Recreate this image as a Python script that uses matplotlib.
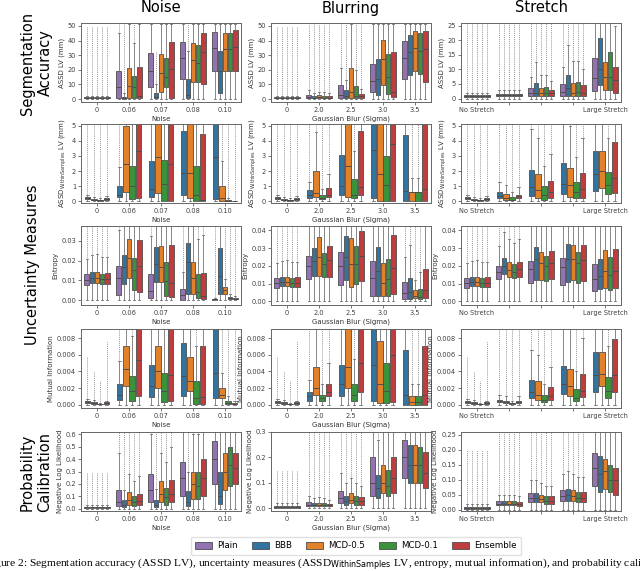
import matplotlib
matplotlib.use("Agg")
import matplotlib.pyplot as plt
from matplotlib.patches import Patch
from matplotlib.ticker import FormatStrFormatter

# ---------------- data ----------------
methods5 = ["Plain", "BBB", "MCD-0.5", "MCD-0.1", "Ensemble"]
methods4 = ["BBB", "MCD-0.5", "MCD-0.1", "Ensemble"]
colors = {"Plain": "#9372b2", "BBB": "#3274a1", "MCD-0.5": "#e1812c",
          "MCD-0.1": "#3a923a", "Ensemble": "#c03d3e"}

noise_ticks = ["0", "0.06", "0.07", "0.08", "0.10"]
blur_ticks = ["0", "2.0", "2.5", "3.0", "3.5"]
stretch_ticks = ["No Stretch", "", "", "", "Large Stretch"]

WHISLO = 0.0
# each box: (q1, median, q3, upper whisker, top of outliers)
acc_noise = {
    "Plain":    [(0.5, 0.8, 1.2, 2, 50), (1, 8.5, 19, 45, 51), (8, 19, 31.5, 51, 51), (14, 28, 39, 51, 51), (19.5, 35, 46, 51, 51)],
    "BBB":      [(0.5, 0.8, 1.2, 2, 50), (0, 0.8, 1.5, 4, 51), (0.5, 1.5, 4, 10, 33), (1, 3, 13.5, 33, 51), (4, 19.5, 33, 51, 51)],
    "MCD-0.5":  [(0.5, 0.8, 1.2, 2, 50), (1, 9, 21, 51, 51), (5, 18, 31, 51, 51), (12, 27, 38, 51, 51), (19.5, 34.5, 45, 51, 51)],
    "MCD-0.1":  [(0.5, 0.8, 1.2, 2, 50), (1, 8, 16, 38, 51), (8, 15, 28, 51, 51), (11.5, 25, 37, 51, 51), (19.5, 34, 45.5, 51, 51)],
    "Ensemble": [(0.5, 0.8, 1.2, 2, 50), (0.5, 2, 22, 51, 51), (1, 20.5, 39, 51, 51), (10.5, 32.5, 45, 51, 51), (19.5, 35.5, 47, 51, 51)],
}
acc_blur = {
    "Plain":    [(0.5, 0.8, 1.2, 2, 50), (0.5, 1.5, 3, 6, 51), (1, 3, 9.5, 21.5, 51), (4.5, 12.5, 24, 51, 51), (14, 28, 39.5, 51, 51)],
    "BBB":      [(0.5, 0.8, 1.2, 2, 50), (0.5, 1, 2, 4, 51), (1, 2, 6, 13, 51), (3, 14, 27.5, 51, 51), (16.5, 32.5, 44, 51, 51)],
    "MCD-0.5":  [(0.5, 0.8, 1.2, 2, 50), (0.5, 1.5, 2.5, 5, 51), (1, 4.5, 21, 51, 51), (9.5, 27.5, 40.5, 51, 51), (19, 35, 46.5, 51, 51)],
    "MCD-0.1":  [(0.5, 0.8, 1.2, 2, 50), (0.5, 1, 2.2, 4.5, 51), (0.5, 2, 9, 20, 51), (3.5, 15, 31, 51, 51), (17, 33, 45, 51, 51)],
    "Ensemble": [(0.5, 0.8, 1.2, 2, 50), (0.5, 1, 2, 4, 51), (0.5, 2, 3.5, 7, 51), (1.5, 5, 32.5, 51, 51), (11.5, 34, 46.5, 51, 51)],
}
acc_stretch = {
    "Plain":    [(0.5, 0.8, 1.2, 2, 26), (0.8, 1.2, 1.6, 2.8, 26), (1, 2, 3.5, 7.5, 26), (1, 2.3, 5, 11, 26), (2.5, 7, 14, 26, 26)],
    "BBB":      [(0.5, 0.8, 1.2, 2, 26), (0.8, 1.2, 1.6, 2.8, 26), (1, 2, 5.5, 12.5, 26), (1, 3.5, 8.2, 18.5, 26), (4.5, 10, 21, 26, 26)],
    "MCD-0.5":  [(0.5, 0.8, 1.2, 2, 26), (0.8, 1.2, 1.6, 2.8, 26), (1, 2, 3.5, 8, 26), (1, 2, 5.5, 13, 26), (3, 7.5, 12.5, 26, 26)],
    "MCD-0.1":  [(0.5, 0.8, 1.2, 2, 26), (0.8, 1.2, 1.6, 2.8, 26), (1, 2, 3.8, 8.2, 26), (1, 2.2, 5.7, 13, 26), (3, 7.5, 16, 26, 26)],
    "Ensemble": [(0.5, 0.8, 1.2, 2, 26), (0.8, 1.2, 1.6, 2.8, 26), (1, 2, 3, 6, 26), (1, 1.8, 4.5, 10, 26), (2, 6.5, 11, 25, 25)],
}
within_noise = {
    "BBB":      [(0.18, 0.22, 0.28, 0.4, 5.3), (0.3, 0.45, 1.05, 2.3, 5.3), (0.3, 0.85, 2.65, 5.3, 5.3), (0.45, 1.9, 4.65, 5.3, 5.3), (0.15, 2.95, 5.3, 5.3, 5.3)],
    "MCD-0.5":  [(0.08, 0.12, 0.17, 0.3, 5.3), (0.6, 2.5, 5.0, 5.3, 5.3), (0.55, 2.95, 5.3, 5.3, 5.3), (0.2, 1.85, 5.3, 5.3, 5.3), (0, 0.2, 1.05, 2.65, 5.3)],
    "MCD-0.1":  [(0.05, 0.08, 0.12, 0.25, 5.3), (0.15, 1.0, 2.35, 5.3, 5.3), (0, 1.15, 2.75, 5.3, 5.3), (0, 0.45, 2.35, 5.3, 5.3), (0, 0.05, 0.1, 0.2, 5.3)],
    "Ensemble": [(0.12, 0.17, 0.22, 0.35, 5.3), (0.25, 3.35, 5.3, 5.3, 5.3), (0.05, 2.45, 5.3, 5.3, 5.3), (0.02, 0.1, 4.45, 5.3, 5.3), (0, 0.01, 0.02, 0.05, 5.3)],
}
within_blur = {
    "BBB":      [(0.18, 0.22, 0.28, 0.4, 5.3), (0.25, 0.4, 0.75, 1.3, 5.3), (0.45, 1.05, 3.05, 5.3, 5.3), (0.2, 3.4, 5.3, 5.3, 5.3), (0, 0.7, 4.35, 5.3, 5.3)],
    "MCD-0.5":  [(0.08, 0.12, 0.17, 0.3, 5.3), (0.3, 0.55, 2.0, 4.55, 5.3), (0.3, 2.35, 5.3, 5.3, 5.3), (0, 1.8, 5.3, 5.3, 5.3), (0, 0.6, 0.6, 1.55, 5.3)],
    "MCD-0.1":  [(0.05, 0.08, 0.12, 0.25, 5.3), (0.15, 0.25, 0.45, 0.8, 5.3), (0.2, 0.4, 1.45, 3.35, 5.3), (0, 1.1, 3.0, 5.3, 5.3), (0, 0.6, 0.6, 1.55, 5.3)],
    "Ensemble": [(0.12, 0.17, 0.22, 0.35, 5.3), (0.3, 0.45, 0.9, 1.8, 5.3), (0.4, 0.95, 4.65, 5.3, 5.3), (0, 3.8, 5.3, 5.3, 5.3), (0, 0.8, 5.3, 5.3, 5.3)],
}
within_stretch = {
    "BBB":      [(0.18, 0.22, 0.28, 0.4, 5.3), (0.25, 0.35, 0.65, 1.3, 5.3), (0.35, 0.95, 2.1, 4.75, 5.3), (0.5, 1.15, 2.55, 5.3, 5.3), (0.7, 1.8, 3.35, 5.3, 5.3)],
    "MCD-0.5":  [(0.08, 0.12, 0.17, 0.3, 5.3), (0.12, 0.25, 0.5, 1.1, 5.3), (0.2, 0.75, 1.8, 4.2, 5.3), (0.3, 1.1, 2.2, 5.0, 5.3), (0.9, 2.0, 3.3, 5.3, 5.3)],
    "MCD-0.1":  [(0.05, 0.08, 0.12, 0.25, 5.3), (0.08, 0.12, 0.3, 0.65, 5.3), (0.1, 0.45, 1.0, 2.35, 5.3), (0.2, 0.6, 1.3, 2.95, 5.3), (0.5, 1.1, 1.95, 4.15, 5.3)],
    "Ensemble": [(0.12, 0.17, 0.22, 0.35, 5.3), (0.2, 0.35, 0.45, 0.95, 5.3), (0.2, 0.6, 1.35, 3.1, 5.3), (0.25, 0.8, 1.85, 4.2, 5.3), (0.55, 1.55, 3.9, 5.3, 5.3)],
}
entropy_noise = {
    "Plain":    [(0.0077, 0.0102, 0.013, 0.021, 0.038), (0.0028, 0.011, 0.017, 0.0355, 0.038), (0.001, 0.0047, 0.013, 0.0325, 0.038), (0.0002, 0.0025, 0.0058, 0.014, 0.038), (0.0001, 0.0003, 0.0006, 0.0012, 0.038)],
    "BBB":      [(0.0085, 0.011, 0.014, 0.023, 0.038), (0.0083, 0.0165, 0.023, 0.038, 0.038), (0.0093, 0.0183, 0.0267, 0.038, 0.038), (0.003, 0.0195, 0.029, 0.038, 0.038), (0.0033, 0.012, 0.0265, 0.038, 0.038)],
    "MCD-0.5":  [(0.0085, 0.011, 0.014, 0.0232, 0.038), (0.011, 0.0212, 0.031, 0.038, 0.038), (0.009, 0.0165, 0.0275, 0.038, 0.038), (0.003, 0.011, 0.0195, 0.038, 0.038), (0.0033, 0.005, 0.0065, 0.0105, 0.038)],
    "MCD-0.1":  [(0.008, 0.0105, 0.0133, 0.022, 0.038), (0.005, 0.015, 0.0215, 0.038, 0.038), (0.002, 0.0097, 0.0193, 0.038, 0.038), (0.001, 0.004, 0.013, 0.031, 0.038), (0.0005, 0.001, 0.0018, 0.003, 0.038)],
    "Ensemble": [(0.008, 0.0105, 0.0135, 0.022, 0.038), (0.0043, 0.0173, 0.0305, 0.038, 0.038), (0.0015, 0.0085, 0.0278, 0.038, 0.038), (0.0005, 0.002, 0.0135, 0.033, 0.038), (0.0003, 0.0007, 0.0012, 0.002, 0.038)],
}
entropy_blur = {
    "Plain":    [(0.0077, 0.0102, 0.013, 0.0215, 0.043), (0.0125, 0.02, 0.0255, 0.043, 0.043), (0.0095, 0.0197, 0.028, 0.043, 0.043), (0.003, 0.0133, 0.0228, 0.043, 0.043), (0.0013, 0.0045, 0.011, 0.025, 0.043)],
    "BBB":      [(0.0085, 0.011, 0.014, 0.023, 0.043), (0.0145, 0.0228, 0.03, 0.043, 0.043), (0.012, 0.0248, 0.0367, 0.043, 0.043), (0.003, 0.017, 0.0305, 0.043, 0.043), (0.0015, 0.0055, 0.0133, 0.0315, 0.043)],
    "MCD-0.5":  [(0.0085, 0.011, 0.014, 0.0232, 0.043), (0.0145, 0.0252, 0.036, 0.043, 0.043), (0.0083, 0.021, 0.0355, 0.043, 0.043), (0.0033, 0.0105, 0.0217, 0.043, 0.043), (0.0018, 0.003, 0.0063, 0.012, 0.043)],
    "MCD-0.1":  [(0.008, 0.0105, 0.0133, 0.022, 0.043), (0.0135, 0.021, 0.027, 0.043, 0.043), (0.0098, 0.021, 0.031, 0.043, 0.043), (0.003, 0.0127, 0.0238, 0.043, 0.043), (0.0013, 0.0025, 0.0072, 0.0165, 0.043)],
    "Ensemble": [(0.008, 0.0105, 0.0135, 0.022, 0.043), (0.014, 0.0232, 0.031, 0.043, 0.043), (0.0117, 0.0255, 0.0397, 0.043, 0.043), (0.0043, 0.0188, 0.0373, 0.043, 0.043), (0.002, 0.0065, 0.0183, 0.043, 0.043)],
}
entropy_stretch = {
    "Plain":    [(0.0077, 0.0102, 0.013, 0.0215, 0.043), (0.0128, 0.0168, 0.0198, 0.031, 0.043), (0.0103, 0.0185, 0.0228, 0.043, 0.043), (0.0093, 0.0192, 0.0245, 0.043, 0.043), (0.006, 0.0127, 0.021, 0.043, 0.043)],
    "BBB":      [(0.0085, 0.011, 0.014, 0.023, 0.043), (0.0155, 0.0198, 0.0243, 0.039, 0.043), (0.012, 0.0237, 0.0305, 0.043, 0.043), (0.011, 0.0238, 0.0325, 0.043, 0.043), (0.0068, 0.0145, 0.0237, 0.043, 0.043)],
    "MCD-0.5":  [(0.0085, 0.011, 0.014, 0.0232, 0.043), (0.0138, 0.0178, 0.0222, 0.035, 0.043), (0.0122, 0.0218, 0.0278, 0.043, 0.043), (0.012, 0.0238, 0.0315, 0.043, 0.043), (0.0078, 0.017, 0.0288, 0.043, 0.043)],
    "MCD-0.1":  [(0.008, 0.0105, 0.0133, 0.022, 0.043), (0.0133, 0.0167, 0.0208, 0.033, 0.043), (0.0113, 0.02, 0.0255, 0.043, 0.043), (0.0103, 0.0215, 0.0278, 0.043, 0.043), (0.0065, 0.015, 0.0248, 0.043, 0.043)],
    "Ensemble": [(0.008, 0.0105, 0.0135, 0.022, 0.043), (0.014, 0.018, 0.0222, 0.035, 0.043), (0.0125, 0.0217, 0.0283, 0.043, 0.043), (0.0113, 0.0233, 0.0318, 0.043, 0.043), (0.0075, 0.017, 0.0293, 0.043, 0.043)],
}
mi_noise = {
    "BBB":      [(0.0002, 0.0003, 0.0004, 0.0007, 0.0057), (0.0006, 0.0012, 0.0025, 0.0052, 0.0093), (0.0009, 0.0022, 0.0048, 0.0093, 0.0093), (0.0011, 0.0035, 0.0074, 0.0093, 0.0093), (0.0008, 0.0038, 0.0093, 0.0093, 0.0093)],
    "MCD-0.5":  [(0.0001, 0.00015, 0.0003, 0.0006, 0.004), (0.0022, 0.0043, 0.007, 0.0093, 0.0093), (0.002, 0.0041, 0.0071, 0.0093, 0.0093), (0.0016, 0.0028, 0.0057, 0.0093, 0.0093), (0.0008, 0.0012, 0.002, 0.0038, 0.0093)],
    "MCD-0.1":  [(0.00003, 0.0001, 0.0001, 0.0002, 0.0029), (0.0005, 0.0017, 0.0035, 0.0082, 0.0093), (0.0003, 0.0016, 0.0038, 0.0093, 0.0093), (0.0001, 0.0008, 0.0029, 0.0071, 0.0093), (0.0001, 0.0002, 0.0005, 0.0011, 0.0093)],
    "Ensemble": [(0.0001, 0.0002, 0.0003, 0.0005, 0.0077), (0.001, 0.0054, 0.0093, 0.0093, 0.0093), (0.0004, 0.0036, 0.0093, 0.0093, 0.0093), (0.0001, 0.0009, 0.0071, 0.0093, 0.0093), (0.00003, 0.0001, 0.0002, 0.0004, 0.0093)],
}
mi_blur = {
    "BBB":      [(0.0002, 0.0003, 0.0004, 0.0007, 0.0057), (0.0005, 0.001, 0.0015, 0.003, 0.0093), (0.001, 0.0025, 0.0048, 0.0093, 0.0093), (0.0004, 0.0048, 0.0093, 0.0093, 0.0093), (0.0, 0.0012, 0.0066, 0.0093, 0.0093)],
    "MCD-0.5":  [(0.0001, 0.00015, 0.0003, 0.0006, 0.004), (0.0012, 0.002, 0.0045, 0.0093, 0.0093), (0.002, 0.0045, 0.0093, 0.0093, 0.0093), (0.0002, 0.0025, 0.0077, 0.0093, 0.0093), (0.0, 0.0003, 0.001, 0.0025, 0.0093)],
    "MCD-0.1":  [(0.00003, 0.0001, 0.0001, 0.0002, 0.0029), (0.0005, 0.0008, 0.0012, 0.0025, 0.0093), (0.0005, 0.0012, 0.0025, 0.0055, 0.0093), (0.0002, 0.0016, 0.005, 0.0093, 0.0093), (0.0, 0.0003, 0.001, 0.0025, 0.0093)],
    "Ensemble": [(0.0001, 0.0002, 0.0003, 0.0005, 0.0077), (0.001, 0.0015, 0.0025, 0.005, 0.0093), (0.0015, 0.005, 0.0093, 0.0093, 0.0093), (0.0003, 0.006, 0.0093, 0.0093, 0.0093), (0.0, 0.0012, 0.0071, 0.0093, 0.0093)],
}
mi_stretch = {
    "BBB":      [(0.0002, 0.0003, 0.0004, 0.0007, 0.0057), (0.0003, 0.0004, 0.0006, 0.0012, 0.0093), (0.0008, 0.0015, 0.003, 0.0066, 0.0093), (0.0013, 0.0025, 0.0047, 0.0093, 0.0093), (0.0015, 0.0036, 0.0063, 0.0093, 0.0093)],
    "MCD-0.5":  [(0.0001, 0.00015, 0.0003, 0.0006, 0.004), (0.0002, 0.0003, 0.0005, 0.001, 0.0093), (0.0006, 0.0012, 0.0028, 0.006, 0.0093), (0.001, 0.0022, 0.0043, 0.0093, 0.0093), (0.0022, 0.0037, 0.0063, 0.0093, 0.0093)],
    "MCD-0.1":  [(0.00003, 0.0001, 0.0001, 0.0002, 0.0029), (0.0001, 0.00015, 0.0002, 0.0004, 0.0093), (0.0003, 0.0006, 0.0012, 0.0025, 0.0093), (0.0004, 0.0008, 0.0019, 0.004, 0.0093), (0.0008, 0.0017, 0.0033, 0.007, 0.0093)],
    "Ensemble": [(0.0001, 0.0002, 0.0003, 0.0005, 0.0077), (0.0002, 0.0003, 0.0005, 0.001, 0.0093), (0.0006, 0.0011, 0.0021, 0.0045, 0.0093), (0.0009, 0.0017, 0.0037, 0.008, 0.0093), (0.0015, 0.0036, 0.0079, 0.0093, 0.0093)],
}
nll_noise = {
    "Plain":    [(0.005, 0.01, 0.015, 0.03, 0.3), (0.02, 0.05, 0.15, 0.45, 0.62), (0.05, 0.15, 0.28, 0.6, 0.62), (0.1, 0.25, 0.38, 0.62, 0.62), (0.2, 0.4, 0.55, 0.62, 0.62)],
    "BBB":      [(0.005, 0.01, 0.015, 0.03, 0.3), (0.01, 0.03, 0.07, 0.15, 0.62), (0.01, 0.03, 0.07, 0.16, 0.62), (0.02, 0.05, 0.14, 0.3, 0.62), (0.04, 0.1, 0.3, 0.62, 0.62)],
    "MCD-0.5":  [(0.005, 0.01, 0.015, 0.03, 0.3), (0.03, 0.07, 0.13, 0.28, 0.62), (0.05, 0.12, 0.22, 0.45, 0.62), (0.08, 0.2, 0.3, 0.6, 0.62), (0.15, 0.3, 0.45, 0.62, 0.62)],
    "MCD-0.1":  [(0.005, 0.01, 0.015, 0.03, 0.3), (0.02, 0.05, 0.1, 0.22, 0.62), (0.03, 0.09, 0.17, 0.38, 0.62), (0.08, 0.18, 0.3, 0.6, 0.62), (0.18, 0.35, 0.5, 0.62, 0.62)],
    "Ensemble": [(0.005, 0.01, 0.015, 0.03, 0.3), (0.03, 0.06, 0.12, 0.26, 0.62), (0.05, 0.12, 0.23, 0.5, 0.62), (0.1, 0.25, 0.4, 0.62, 0.62), (0.2, 0.33, 0.45, 0.62, 0.62)],
}
nll_blur = {
    "Plain":    [(0.003, 0.006, 0.01, 0.02, 0.15), (0.01, 0.015, 0.025, 0.05, 0.3), (0.02, 0.04, 0.07, 0.14, 0.3), (0.05, 0.1, 0.2, 0.3, 0.3), (0.12, 0.2, 0.27, 0.3, 0.3)],
    "BBB":      [(0.003, 0.006, 0.01, 0.02, 0.15), (0.008, 0.012, 0.02, 0.04, 0.3), (0.015, 0.03, 0.05, 0.1, 0.3), (0.04, 0.08, 0.13, 0.27, 0.3), (0.1, 0.17, 0.25, 0.3, 0.3)],
    "MCD-0.5":  [(0.003, 0.006, 0.01, 0.02, 0.15), (0.01, 0.015, 0.022, 0.045, 0.3), (0.02, 0.035, 0.06, 0.12, 0.3), (0.06, 0.1, 0.17, 0.3, 0.3), (0.1, 0.17, 0.25, 0.3, 0.3)],
    "MCD-0.1":  [(0.003, 0.006, 0.01, 0.02, 0.15), (0.008, 0.012, 0.02, 0.04, 0.3), (0.015, 0.03, 0.05, 0.1, 0.3), (0.05, 0.09, 0.15, 0.3, 0.3), (0.1, 0.17, 0.24, 0.3, 0.3)],
    "Ensemble": [(0.003, 0.006, 0.01, 0.02, 0.15), (0.008, 0.012, 0.018, 0.035, 0.3), (0.015, 0.03, 0.045, 0.09, 0.3), (0.06, 0.12, 0.2, 0.3, 0.3), (0.08, 0.14, 0.22, 0.3, 0.3)],
}
nll_stretch = {
    "Plain":    [(0.003, 0.006, 0.01, 0.02, 0.2), (0.015, 0.02, 0.03, 0.05, 0.26), (0.025, 0.04, 0.055, 0.1, 0.26), (0.03, 0.045, 0.065, 0.12, 0.26), (0.08, 0.14, 0.19, 0.26, 0.26)],
    "BBB":      [(0.003, 0.006, 0.01, 0.02, 0.2), (0.015, 0.02, 0.03, 0.05, 0.26), (0.025, 0.04, 0.055, 0.1, 0.26), (0.03, 0.05, 0.07, 0.13, 0.26), (0.06, 0.12, 0.18, 0.26, 0.26)],
    "MCD-0.5":  [(0.003, 0.006, 0.01, 0.02, 0.2), (0.015, 0.02, 0.028, 0.05, 0.26), (0.025, 0.035, 0.05, 0.09, 0.26), (0.03, 0.045, 0.065, 0.12, 0.26), (0.07, 0.13, 0.17, 0.26, 0.26)],
    "MCD-0.1":  [(0.003, 0.006, 0.01, 0.02, 0.2), (0.015, 0.02, 0.028, 0.05, 0.26), (0.02, 0.03, 0.045, 0.08, 0.26), (0.025, 0.04, 0.06, 0.11, 0.26), (0.06, 0.1, 0.15, 0.26, 0.26)],
    "Ensemble": [(0.003, 0.006, 0.01, 0.02, 0.2), (0.012, 0.018, 0.025, 0.045, 0.26), (0.02, 0.03, 0.045, 0.08, 0.26), (0.025, 0.04, 0.06, 0.11, 0.26), (0.05, 0.1, 0.14, 0.26, 0.26)],
}

# ---------------- layout ----------------
W, H = 640, 571
col_left = [81, 271, 461]
ax_w = 160
row_top = [23, 124, 226, 329, 432]
ax_h = 79

rows = [
    dict(ylabel="ASSD LV (mm)", data=[acc_noise, acc_blur, acc_stretch], methods=methods5,
         ylims=[(-2, 52), (-2, 52), (-1.2, 26)], ticks=[range(0, 51, 10), range(0, 51, 10), range(0, 26, 5)], fmt="%d"),
    dict(ylabel="ASSD$_{\\mathrm{WithinSamples}}$ LV (mm)", data=[within_noise, within_blur, within_stretch], methods=methods4,
         ylims=[(-0.1, 5.1)] * 3, ticks=[range(0, 6)] * 3, fmt="%d"),
    dict(ylabel="Entropy", data=[entropy_noise, entropy_blur, entropy_stretch], methods=methods5,
         ylims=[(-0.0025, 0.0375), (-0.002, 0.0424), (-0.002, 0.0424)],
         ticks=[[0, 0.01, 0.02, 0.03], [0, 0.01, 0.02, 0.03, 0.04], [0, 0.01, 0.02, 0.03, 0.04]], fmt="%.2f"),
    dict(ylabel="Mutual Information", data=[mi_noise, mi_blur, mi_stretch], methods=methods4,
         ylims=[(-0.0004, 0.0091)] * 3, ticks=[[0, 0.002, 0.004, 0.006, 0.008]] * 3, fmt="%.3f"),
    dict(ylabel="Negative Log Likelihood", data=[nll_noise, nll_blur, nll_stretch], methods=methods5,
         ylims=[(-0.02, 0.62), (-0.01, 0.3), (-0.005, 0.26)],
         ticks=[[0, 0.1, 0.2, 0.3, 0.4, 0.5, 0.6], [0, 0.1, 0.2, 0.3], [0, 0.05, 0.1, 0.15, 0.2, 0.25]],
         fmt=["%.1f", "%.1f", "%.2f"]),
]
col_ticks = [noise_ticks, blur_ticks, stretch_ticks]
col_xlabels = ["Noise", "Gaussian Blur (Sigma)", ""]
line_c = "0.3"


def draw(ax, data, methods, ylim):
    n = len(methods)
    slot = 0.8 / n
    for i, m in enumerate(methods):
        off = -0.4 + slot * (i + 0.5)
        stats, pos = [], []
        for g, (q1, med, q3, whi, fl) in enumerate(data[m]):
            stats.append(dict(q1=q1, med=med, q3=q3, whislo=WHISLO, whishi=whi, fliers=[]))
            pos.append(g + off)
            if fl > whi:
                ax.vlines(g + off, whi, fl, color="0.6", lw=0.7, linestyle=(0, (1, 1)), zorder=1)
        ax.bxp(stats, positions=pos, widths=slot * 0.9, capwidths=slot * 0.4,
               patch_artist=True, showfliers=False, manage_ticks=False,
               boxprops=dict(facecolor=colors[m], edgecolor=line_c, linewidth=0.6),
               whiskerprops=dict(color="0.45", linewidth=0.6),
               capprops=dict(color="0.45", linewidth=0.6),
               medianprops=dict(color=line_c, linewidth=0.7))
    ax.set_ylim(*ylim)
    ax.set_xlim(-0.5, 4.5)


fig = plt.figure(figsize=(W / 100, H / 100), dpi=100)
for r, row in enumerate(rows):
    for c in range(3):
        ax = fig.add_axes([col_left[c] / W, 1 - (row_top[r] + ax_h) / H, ax_w / W, ax_h / H])
        draw(ax, row["data"][c], row["methods"], row["ylims"][c])
        ax.set_yticks(list(row["ticks"][c]))
        fmt = row["fmt"][c] if isinstance(row["fmt"], list) else row["fmt"]
        ax.yaxis.set_major_formatter(FormatStrFormatter(fmt))
        ax.set_xticks(range(5))
        ax.set_xticklabels(col_ticks[c])
        ax.tick_params(labelsize=4.8, length=2, width=0.5, pad=1.5, colors="0.25")
        ax.set_ylabel(row["ylabel"], fontsize=5, labelpad=2, color="0.2")
        ax.set_xlabel(col_xlabels[c], fontsize=5, labelpad=2, color="0.2")
        for s in ax.spines.values():
            s.set_color("0.4")
            s.set_linewidth(0.7)

# column titles
for c, t in enumerate(["Noise", "Blurring", "Stretch"]):
    fig.text((col_left[c] + ax_w / 2) / W, 1 - 0.5 / H, t, ha="center", va="top", fontsize=10.5)

# row group labels
fig.text(36 / W, 1 - 63 / H, "Segmentation\nAccuracy", rotation=90, ha="center", va="center",
         fontsize=10.5, linespacing=1.25)
fig.text(33 / W, 1 - 265 / H, "Uncertainty Measures", rotation=90, ha="center", va="center", fontsize=10.5)
fig.text(36 / W, 1 - 472 / H, "Probability\nCalibration", rotation=90, ha="center", va="center",
         fontsize=10.5, linespacing=1.25)

handles = [Patch(facecolor=colors[m], edgecolor=line_c, linewidth=0.6) for m in methods5]
fig.legend(handles, methods5, loc="center", bbox_to_anchor=(356 / W, 1 - 546 / H), ncol=5,
           fontsize=6.2, handlelength=2.0, handleheight=0.9, columnspacing=1.6, handletextpad=0.6,
           frameon=True, edgecolor="0.85", borderpad=0.5)

fig.text(-0.024, 1 - 565 / H,
         "Figure 2: Segmentation accuracy (ASSD LV), uncertainty measures (ASSD$_{\\mathrm{WithinSamples}}$ LV, entropy, mutual information), and probability calibration",
         ha="left", va="center", fontsize=8.2, family="Liberation Serif")

fig.savefig("out.png", dpi=100)
